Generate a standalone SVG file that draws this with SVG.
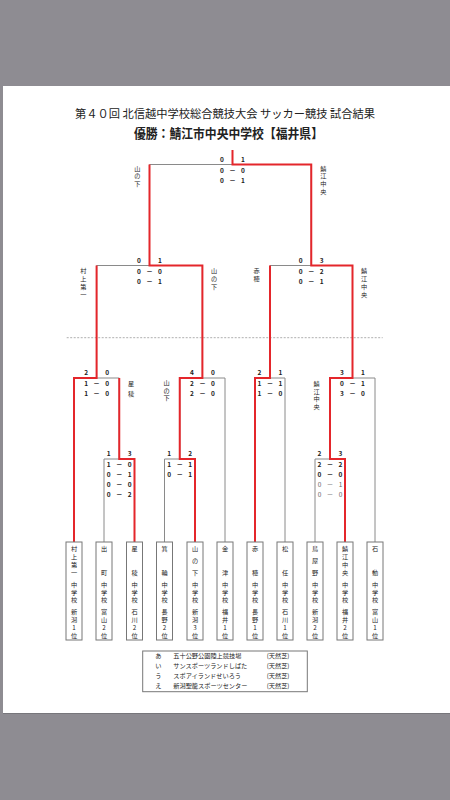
<svg xmlns="http://www.w3.org/2000/svg" width="450" height="800" viewBox="0 0 450 800">
<style>
text{font-family:"Noto Sans CJK JP","Noto Sans",sans-serif;fill:#222}
.t1{font-size:11.5px}
.t2{font-size:13px;font-weight:bold}
.vt{font-size:6.2px;text-anchor:middle}
.lbl{font-size:6.2px;text-anchor:middle}
.sc{font-size:6.5px;font-weight:bold;text-anchor:middle}
.sl{font-size:6.5px;text-anchor:middle;fill:#666}
.lg{font-size:6.2px}
.box{fill:#fff;stroke:#777;stroke-width:1}
.g{fill:none;stroke:#8a8a8a;stroke-width:1}
.r{fill:none;stroke:#e4262b;stroke-width:2;stroke-linejoin:miter}
</style>
<rect width="450" height="800" fill="#8e8c92"/>
<rect x="3" y="86" width="447" height="627" fill="#ffffff"/>
<line x1="3" y1="713.5" x2="450" y2="713.5" stroke="#77767b" stroke-width="1"/>

<g id="title">
<text class="t1" x="75" y="117.7" textLength="300" lengthAdjust="spacingAndGlyphs">第４０回 北信越中学校総合競技大会 サッカー競技 試合結果</text>
<text class="t2" x="134" y="138.2" textLength="189" lengthAdjust="spacingAndGlyphs">優勝：鯖江市中央中学校【福井県】</text>
</g>

<line id="divider" x1="66.7" y1="337.7" x2="382.7" y2="337.7" stroke="#9a9a9a" stroke-width="0.8" stroke-dasharray="2 1.5"/>

<g id="connectors">
<g class="gray">
<path class="g" d="M74 542V378M104 542V459M134.5 542V459M164.5 542V459M195 542V459M225 542V378M255 542V378M285 542V378M315 542V459M345 542V459M375 542V378"/>
<path class="g" d="M104 459H134.5M164.5 459H195M315 459H345"/>
<path class="g" d="M119.25 459V378M179.75 459V378M330 459V378"/>
<path class="g" d="M74 378H119.25M179.75 378H225M255 378H285M330 378H375"/>
<path class="g" d="M96.6 378V265.5M202.4 378V265.5M270 378V265.5M352.5 378V265.5"/>
<path class="g" d="M96.6 265.5H202.4M270 265.5H352.5"/>
<path class="g" d="M149.5 265.5V164.5M311.25 265.5V164.5M149.5 164.5H311.25"/>
</g>
<g class="red">
<polyline class="r" points="74,542 74,378 96.6,378 96.6,265.5"/>
<polyline class="r" points="134.5,542 134.5,459 119.25,459 119.25,378"/>
<polyline class="r" points="195,542 195,459 179.75,459 179.75,378 202.4,378 202.4,265.5 149.5,265.5 149.5,164.5"/>
<polyline class="r" points="255,542 255,378 270,378 270,265.5"/>
<polyline class="r" points="345,542 345,459 330,459 330,378 352.5,378 352.5,265.5 311.25,265.5 311.25,164.5 232.5,164.5 232.5,150"/>
</g>
</g>

<g id="match-final">
<text class="sc"><tspan x="222" y="161.9">0</tspan><tspan x="243" y="161.9">1</tspan></text>
<text class="sc"><tspan x="222" y="172.9">0</tspan><tspan x="232.5" y="172.9">－</tspan><tspan x="243" y="172.9">0</tspan></text>
<text class="sc"><tspan x="222" y="182.9">0</tspan><tspan x="232.5" y="182.9">－</tspan><tspan x="243" y="182.9">1</tspan></text>
<text class="lbl"><tspan x="137.3" y="170.6">山</tspan><tspan x="137.3" y="178.2">の</tspan><tspan x="137.3" y="185.8">下</tspan></text>
<text class="lbl"><tspan x="323.3" y="170.6">鯖</tspan><tspan x="323.3" y="178.4">江</tspan><tspan x="323.3" y="186.2">中</tspan><tspan x="323.3" y="194">央</tspan></text>
</g>

<g id="match-sf1">
<text class="sc"><tspan x="139" y="262.9">0</tspan><tspan x="160" y="262.9">1</tspan></text>
<text class="sc"><tspan x="139" y="273.9">0</tspan><tspan x="149.5" y="273.9">－</tspan><tspan x="160" y="273.9">0</tspan></text>
<text class="sc"><tspan x="139" y="283.9">0</tspan><tspan x="149.5" y="283.9">－</tspan><tspan x="160" y="283.9">1</tspan></text>
<text class="lbl"><tspan x="83.3" y="272.5">村</tspan><tspan x="83.3" y="280.8">上</tspan><tspan x="83.3" y="289.1">第</tspan><tspan x="83.3" y="297.4">一</tspan></text>
<text class="lbl"><tspan x="214" y="272.5">山</tspan><tspan x="214" y="280.6">の</tspan><tspan x="214" y="288.7">下</tspan></text>
</g>

<g id="match-sf2">
<text class="sc"><tspan x="300.75" y="262.9">0</tspan><tspan x="321.75" y="262.9">3</tspan></text>
<text class="sc"><tspan x="300.75" y="273.9">0</tspan><tspan x="311.25" y="273.9">－</tspan><tspan x="321.75" y="273.9">2</tspan></text>
<text class="sc"><tspan x="300.75" y="283.9">0</tspan><tspan x="311.25" y="283.9">－</tspan><tspan x="321.75" y="283.9">1</tspan></text>
<text class="lbl"><tspan x="256.7" y="272.5">赤</tspan><tspan x="256.7" y="280.5">穂</tspan></text>
<text class="lbl"><tspan x="364" y="272.5">鯖</tspan><tspan x="364" y="280.6">江</tspan><tspan x="364" y="288.7">中</tspan><tspan x="364" y="296.8">央</tspan></text>
</g>

<g id="match-qf1">
<text class="sc"><tspan x="86.1" y="375.4">2</tspan><tspan x="107.1" y="375.4">0</tspan></text>
<text class="sc"><tspan x="86.1" y="386.4">1</tspan><tspan x="96.6" y="386.4">－</tspan><tspan x="107.1" y="386.4">0</tspan></text>
<text class="sc"><tspan x="86.1" y="396.4">1</tspan><tspan x="96.6" y="396.4">－</tspan><tspan x="107.1" y="396.4">0</tspan></text>
<text class="lbl"><tspan x="131" y="385.8">星</tspan><tspan x="131" y="395.8">稜</tspan></text>
</g>

<g id="match-qf2">
<text class="sc"><tspan x="191.9" y="375.4">4</tspan><tspan x="212.9" y="375.4">0</tspan></text>
<text class="sc"><tspan x="191.9" y="386.4">2</tspan><tspan x="202.4" y="386.4">－</tspan><tspan x="212.9" y="386.4">0</tspan></text>
<text class="sc"><tspan x="191.9" y="396.4">2</tspan><tspan x="202.4" y="396.4">－</tspan><tspan x="212.9" y="396.4">0</tspan></text>
<text class="lbl"><tspan x="166.7" y="384.8">山</tspan><tspan x="166.7" y="392.5">の</tspan><tspan x="166.7" y="400.2">下</tspan></text>
</g>

<g id="match-qf3">
<text class="sc"><tspan x="259.5" y="375.4">2</tspan><tspan x="280.5" y="375.4">1</tspan></text>
<text class="sc"><tspan x="259.5" y="386.4">1</tspan><tspan x="270" y="386.4">－</tspan><tspan x="280.5" y="386.4">1</tspan></text>
<text class="sc"><tspan x="259.5" y="396.4">1</tspan><tspan x="270" y="396.4">－</tspan><tspan x="280.5" y="396.4">0</tspan></text>
</g>

<g id="match-qf4">
<text class="sc"><tspan x="342" y="375.4">3</tspan><tspan x="363" y="375.4">1</tspan></text>
<text class="sc"><tspan x="342" y="386.4">0</tspan><tspan x="352.5" y="386.4">－</tspan><tspan x="363" y="386.4">1</tspan></text>
<text class="sc"><tspan x="342" y="396.4">3</tspan><tspan x="352.5" y="396.4">－</tspan><tspan x="363" y="396.4">0</tspan></text>
<text class="lbl"><tspan x="316.7" y="385.8">鯖</tspan><tspan x="316.7" y="393.5">江</tspan><tspan x="316.7" y="401.2">中</tspan><tspan x="316.7" y="408.9">央</tspan></text>
</g>

<g id="match-r1a">
<text class="sc"><tspan x="108.75" y="456.4">1</tspan><tspan x="129.75" y="456.4">3</tspan></text>
<text class="sc"><tspan x="108.75" y="467.4">1</tspan><tspan x="119.25" y="467.4">－</tspan><tspan x="129.75" y="467.4">0</tspan></text>
<text class="sc"><tspan x="108.75" y="477.4">0</tspan><tspan x="119.25" y="477.4">－</tspan><tspan x="129.75" y="477.4">1</tspan></text>
<text class="sc"><tspan x="108.75" y="487.4">0</tspan><tspan x="119.25" y="487.4">－</tspan><tspan x="129.75" y="487.4">0</tspan></text>
<text class="sc"><tspan x="108.75" y="497.4">0</tspan><tspan x="119.25" y="497.4">－</tspan><tspan x="129.75" y="497.4">2</tspan></text>
</g>

<g id="match-r1b">
<text class="sc"><tspan x="169.25" y="456.4">1</tspan><tspan x="190.25" y="456.4">2</tspan></text>
<text class="sc"><tspan x="169.25" y="467.4">1</tspan><tspan x="179.75" y="467.4">－</tspan><tspan x="190.25" y="467.4">1</tspan></text>
<text class="sc"><tspan x="169.25" y="477.4">0</tspan><tspan x="179.75" y="477.4">－</tspan><tspan x="190.25" y="477.4">1</tspan></text>
</g>

<g id="match-r1c">
<text class="sc"><tspan x="319.5" y="456.4">2</tspan><tspan x="340.5" y="456.4">3</tspan></text>
<text class="sc"><tspan x="319.5" y="467.4">2</tspan><tspan x="330" y="467.4">－</tspan><tspan x="340.5" y="467.4">2</tspan></text>
<text class="sc"><tspan x="319.5" y="477.4">0</tspan><tspan x="330" y="477.4">－</tspan><tspan x="340.5" y="477.4">0</tspan></text>
<text class="sl"><tspan x="319.5" y="487.4">0</tspan><tspan x="330" y="487.4">－</tspan><tspan x="340.5" y="487.4">1</tspan></text>
<text class="sl"><tspan x="319.5" y="497.4">0</tspan><tspan x="330" y="497.4">－</tspan><tspan x="340.5" y="497.4">0</tspan></text>
</g>

<g id="team-murakamidaiichi"><rect class="box" x="66" y="542" width="16" height="98"/>
<text class="vt"><tspan x="74" y="551">村</tspan><tspan x="74" y="559">上</tspan><tspan x="74" y="567">第</tspan><tspan x="74" y="575">一</tspan><tspan x="74" y="587">中</tspan><tspan x="74" y="594.7">学</tspan><tspan x="74" y="602.4">校</tspan><tspan x="74" y="614.2">新</tspan><tspan x="74" y="622">潟</tspan><tspan x="74" y="629.8">1</tspan><tspan x="74" y="637.6">位</tspan></text></g>

<g id="team-demachi"><rect class="box" x="96" y="542" width="16" height="98"/>
<text class="vt"><tspan x="104" y="551">出</tspan><tspan x="104" y="575">町</tspan><tspan x="104" y="587">中</tspan><tspan x="104" y="594.7">学</tspan><tspan x="104" y="602.4">校</tspan><tspan x="104" y="614.2">富</tspan><tspan x="104" y="622">山</tspan><tspan x="104" y="629.8">2</tspan><tspan x="104" y="637.6">位</tspan></text></g>

<g id="team-seiryo"><rect class="box" x="126.5" y="542" width="16" height="98"/>
<text class="vt"><tspan x="134.5" y="551">星</tspan><tspan x="134.5" y="575">稜</tspan><tspan x="134.5" y="587">中</tspan><tspan x="134.5" y="594.7">学</tspan><tspan x="134.5" y="602.4">校</tspan><tspan x="134.5" y="614.2">石</tspan><tspan x="134.5" y="622">川</tspan><tspan x="134.5" y="629.8">2</tspan><tspan x="134.5" y="637.6">位</tspan></text></g>

<g id="team-minowa"><rect class="box" x="156.5" y="542" width="16" height="98"/>
<text class="vt"><tspan x="164.5" y="551">箕</tspan><tspan x="164.5" y="575">輪</tspan><tspan x="164.5" y="587">中</tspan><tspan x="164.5" y="594.7">学</tspan><tspan x="164.5" y="602.4">校</tspan><tspan x="164.5" y="614.2">長</tspan><tspan x="164.5" y="622">野</tspan><tspan x="164.5" y="629.8">2</tspan><tspan x="164.5" y="637.6">位</tspan></text></g>

<g id="team-yamanoshita"><rect class="box" x="187" y="542" width="16" height="98"/>
<text class="vt"><tspan x="195" y="551">山</tspan><tspan x="195" y="563">の</tspan><tspan x="195" y="575">下</tspan><tspan x="195" y="587">中</tspan><tspan x="195" y="594.7">学</tspan><tspan x="195" y="602.4">校</tspan><tspan x="195" y="614.2">新</tspan><tspan x="195" y="622">潟</tspan><tspan x="195" y="629.8">3</tspan><tspan x="195" y="637.6">位</tspan></text></g>

<g id="team-kanazu"><rect class="box" x="217" y="542" width="16" height="98"/>
<text class="vt"><tspan x="225" y="551">金</tspan><tspan x="225" y="575">津</tspan><tspan x="225" y="587">中</tspan><tspan x="225" y="594.7">学</tspan><tspan x="225" y="602.4">校</tspan><tspan x="225" y="614.2">福</tspan><tspan x="225" y="622">井</tspan><tspan x="225" y="629.8">1</tspan><tspan x="225" y="637.6">位</tspan></text></g>

<g id="team-akaho"><rect class="box" x="247" y="542" width="16" height="98"/>
<text class="vt"><tspan x="255" y="551">赤</tspan><tspan x="255" y="575">穂</tspan><tspan x="255" y="587">中</tspan><tspan x="255" y="594.7">学</tspan><tspan x="255" y="602.4">校</tspan><tspan x="255" y="614.2">長</tspan><tspan x="255" y="622">野</tspan><tspan x="255" y="629.8">1</tspan><tspan x="255" y="637.6">位</tspan></text></g>

<g id="team-matto"><rect class="box" x="277" y="542" width="16" height="98"/>
<text class="vt"><tspan x="285" y="551">松</tspan><tspan x="285" y="575">任</tspan><tspan x="285" y="587">中</tspan><tspan x="285" y="594.7">学</tspan><tspan x="285" y="602.4">校</tspan><tspan x="285" y="614.2">石</tspan><tspan x="285" y="622">川</tspan><tspan x="285" y="629.8">1</tspan><tspan x="285" y="637.6">位</tspan></text></g>

<g id="team-toyano"><rect class="box" x="307" y="542" width="16" height="98"/>
<text class="vt"><tspan x="315" y="551">鳥</tspan><tspan x="315" y="563">屋</tspan><tspan x="315" y="575">野</tspan><tspan x="315" y="587">中</tspan><tspan x="315" y="594.7">学</tspan><tspan x="315" y="602.4">校</tspan><tspan x="315" y="614.2">新</tspan><tspan x="315" y="622">潟</tspan><tspan x="315" y="629.8">2</tspan><tspan x="315" y="637.6">位</tspan></text></g>

<g id="team-sabaechuo"><rect class="box" x="337" y="542" width="16" height="98"/>
<text class="vt"><tspan x="345" y="551">鯖</tspan><tspan x="345" y="559">江</tspan><tspan x="345" y="567">中</tspan><tspan x="345" y="575">央</tspan><tspan x="345" y="587">中</tspan><tspan x="345" y="594.7">学</tspan><tspan x="345" y="602.4">校</tspan><tspan x="345" y="614.2">福</tspan><tspan x="345" y="622">井</tspan><tspan x="345" y="629.8">2</tspan><tspan x="345" y="637.6">位</tspan></text></g>

<g id="team-isurugi"><rect class="box" x="367" y="542" width="16" height="98"/>
<text class="vt"><tspan x="375" y="551">石</tspan><tspan x="375" y="575">動</tspan><tspan x="375" y="587">中</tspan><tspan x="375" y="594.7">学</tspan><tspan x="375" y="602.4">校</tspan><tspan x="375" y="614.2">富</tspan><tspan x="375" y="622">山</tspan><tspan x="375" y="629.8">1</tspan><tspan x="375" y="637.6">位</tspan></text></g>

<g id="legend">
<rect x="142.7" y="651" width="164.6" height="40.7" fill="#fff" stroke="#777" stroke-width="1"/>
<text class="lg" x="158.3" y="657.9" text-anchor="middle">あ</text>
<text class="lg" x="173.3" y="657.9">五十公野公園陸上競技場</text>
<text class="lg" x="266.7" y="657.9">(天然芝)</text>
<text class="lg" x="158.3" y="667.9" text-anchor="middle">い</text>
<text class="lg" x="173.3" y="667.9">サンスポーツランドしばた</text>
<text class="lg" x="266.7" y="667.9">(天然芝)</text>
<text class="lg" x="158.3" y="677.9" text-anchor="middle">う</text>
<text class="lg" x="173.3" y="677.9">スポアイランドせいろう</text>
<text class="lg" x="266.7" y="677.9">(天然芝)</text>
<text class="lg" x="158.3" y="687.9" text-anchor="middle">え</text>
<text class="lg" x="173.3" y="687.9">新潟聖籠スポーツセンター</text>
<text class="lg" x="266.7" y="687.9">(天然芝)</text>
</g>
</svg>
